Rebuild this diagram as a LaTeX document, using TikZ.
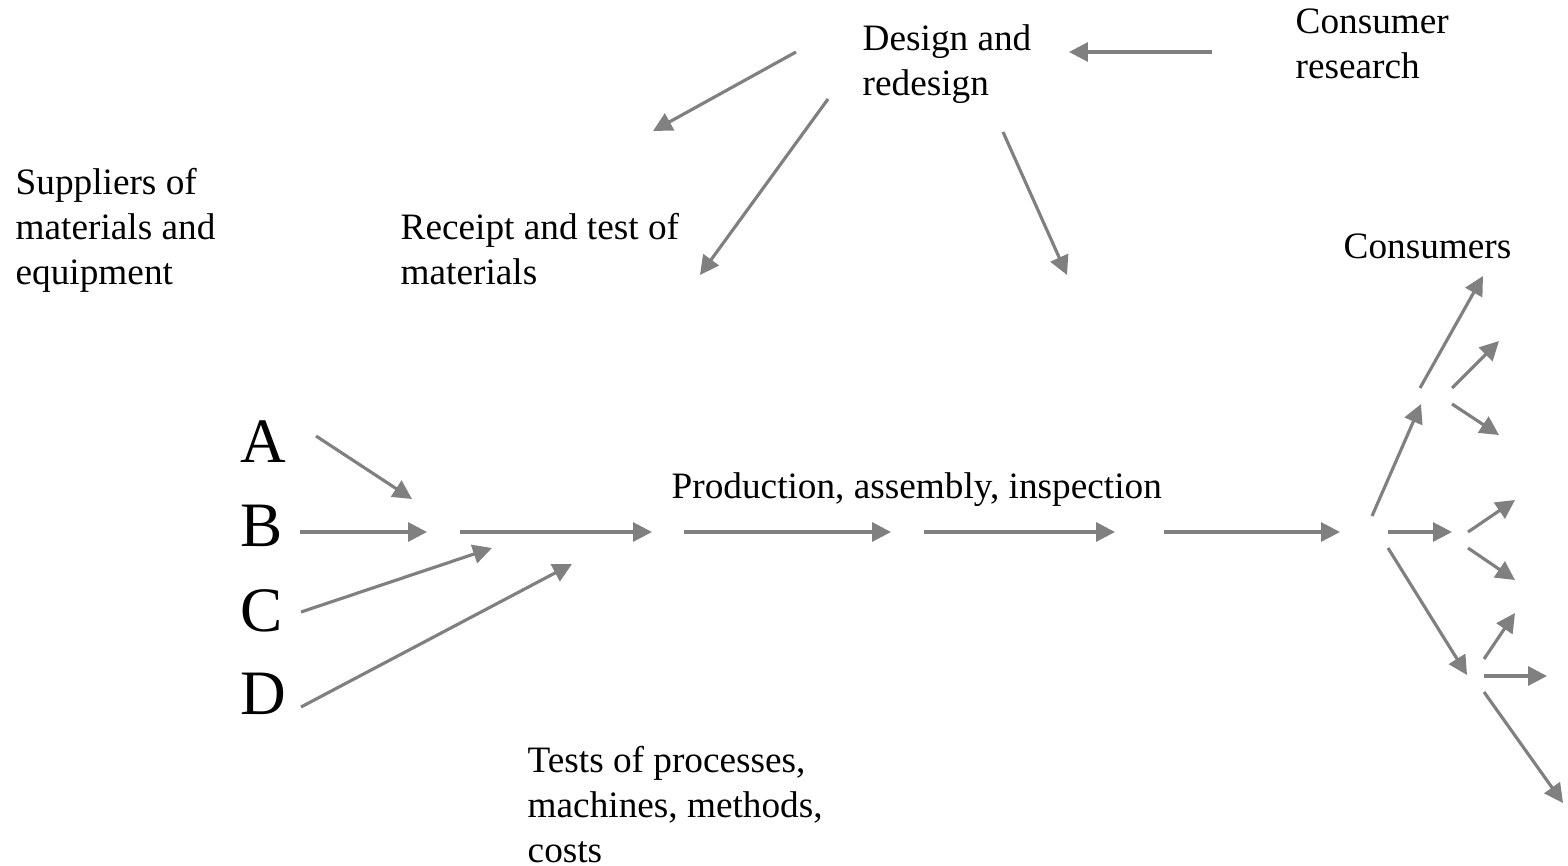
\documentclass[tikz,border=0pt]{standalone}
\usepackage{fontspec}
\setmainfont{Liberation Serif}
\usetikzlibrary{arrows.meta}
\definecolor{arrowgray}{RGB}{128,128,128}

\begin{document}
\begin{tikzpicture}[
  flow/.style={draw=arrowgray, line width=0.9pt, -{Triangle[length=5.4pt,width=5.4pt]}},
  lbl/.style={anchor=base west, inner sep=0pt, align=left, font=\fontsize{10.6}{12.7}\selectfont},
  letter/.style={anchor=base west, inner sep=0pt, font=\fontsize{18}{18}\selectfont}]
          \useasboundingbox (0,0) rectangle (15.68,8.65);
          % texts (base = last line)
          \node[lbl] (design) at (8.62,7.70) {Design and\\redesign};
          \node[lbl] (research) at (12.95,7.87) {Consumer\\research};
          \node[lbl] (suppliers) at (0.15,5.81) {Suppliers of\\materials and\\equipment};
          \node[lbl] (receipt) at (4.00,5.81) {Receipt and test of\\materials};
          \node[lbl] (consumers) at (13.43,6.07) {Consumers};
          \node[lbl] (production) at (6.71,3.67) {Production, assembly, inspection};
          \node[lbl] (tests) at (5.27,0.03) {Tests of processes,\\machines, methods,\\costs};
          \node[letter] (A) at (2.40,4.03) {A};
          \node[letter] (B) at (2.40,3.19) {B};
          \node[letter] (C) at (2.40,2.34) {C};
          \node[letter] (D) at (2.40,1.51) {D};
          % top
          \coordinate (des1) at (7.96,8.13);  \coordinate (sup1) at (6.53,7.34);
          \coordinate (des2) at (8.28,7.66);  \coordinate (rec1) at (7.00,5.90);
          \coordinate (des3) at (10.03,7.33); \coordinate (prod1) at (10.67,5.90);
          \coordinate (res1) at (12.12,8.13); \coordinate (des4) at (10.69,8.13);
          \draw[flow] (des1) to (sup1);
          \draw[flow] (des2) to (rec1);
          \draw[flow] (des3) to (prod1);
          \draw[flow] (res1) to (des4);
          % inputs
          \coordinate (a1) at (3.16,4.29); \coordinate (a2) at (4.12,3.66);
          \coordinate (b1) at (3.00,3.33); \coordinate (b2) at (4.27,3.33);
          \coordinate (c1) at (3.01,2.53); \coordinate (c2) at (4.92,3.17);
          \coordinate (d1) at (3.01,1.58); \coordinate (d2) at (5.72,3.01);
          \draw[flow] (a1) to (a2);
          \draw[flow] (b1) to (b2);
          \draw[flow] (c1) to (c2);
          \draw[flow] (d1) to (d2);
          % main line
          \coordinate (m1) at (4.60,3.33);  \coordinate (m2) at (6.52,3.33);
          \coordinate (m3) at (6.84,3.33);  \coordinate (m4) at (8.91,3.33);
          \coordinate (m5) at (9.24,3.33);  \coordinate (m6) at (11.15,3.33);
          \coordinate (m7) at (11.64,3.33); \coordinate (m8) at (13.40,3.33);
          \draw[flow] (m1) to (m2);
          \draw[flow] (m3) to (m4);
          \draw[flow] (m5) to (m6);
          \draw[flow] (m7) to (m8);
          % consumers
          \coordinate (up0) at (13.72,3.49); \coordinate (up1) at (14.21,4.61);
          \coordinate (up2) at (14.20,4.77); \coordinate (up3) at (14.83,5.89);
          \coordinate (up4) at (14.52,4.77); \coordinate (up5) at (14.99,5.24);
          \coordinate (up6) at (14.52,4.61); \coordinate (up7) at (14.99,4.30);
          \coordinate (mid0) at (13.88,3.33); \coordinate (mid1) at (14.52,3.33);
          \coordinate (mid2) at (14.68,3.33); \coordinate (mid3) at (15.15,3.65);
          \coordinate (mid4) at (14.68,3.17); \coordinate (mid5) at (15.15,2.85);
          \coordinate (lo0) at (13.88,3.17); \coordinate (lo1) at (14.67,1.90);
          \coordinate (lo2) at (14.84,2.06); \coordinate (lo3) at (15.15,2.52);
          \coordinate (lo4) at (14.84,1.89); \coordinate (lo5) at (15.47,1.89);
          \coordinate (lo6) at (14.84,1.73); \coordinate (lo7) at (15.63,0.62);
          \draw[flow] (up0) to (up1);
          \draw[flow] (up2) to (up3);
          \draw[flow] (up4) to (up5);
          \draw[flow] (up6) to (up7);
          \draw[flow] (mid0) to (mid1);
          \draw[flow] (mid2) to (mid3);
          \draw[flow] (mid4) to (mid5);
          \draw[flow] (lo0) to (lo1);
          \draw[flow] (lo2) to (lo3);
          \draw[flow] (lo4) to (lo5);
          \draw[flow] (lo6) to (lo7);
        \end{tikzpicture}
\end{document}
